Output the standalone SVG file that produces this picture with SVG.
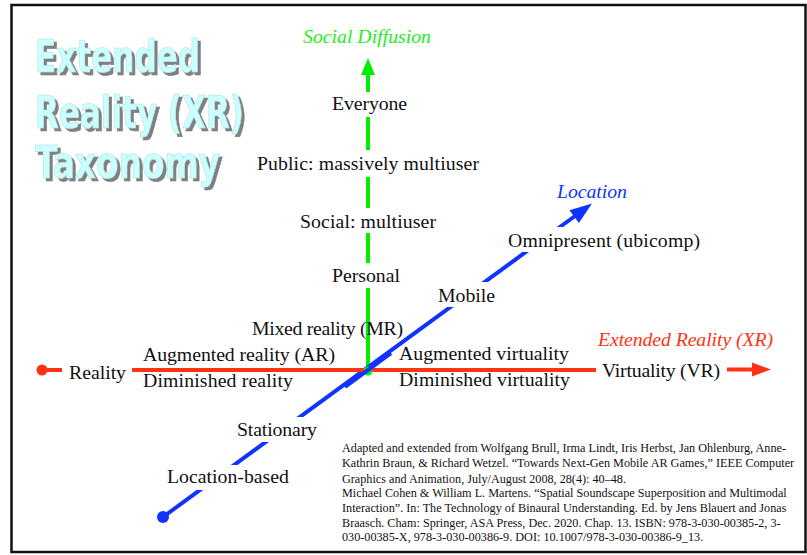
<svg xmlns="http://www.w3.org/2000/svg" width="807" height="555" viewBox="0 0 807 555">
<defs>
<style>
.lbl{font-family:"Liberation Serif","Times New Roman",serif;font-size:19.8px;fill:#111}
.ax{font-family:"Liberation Serif","Times New Roman",serif;font-size:19.8px;font-style:italic}
.cit{font-family:"Liberation Serif","Times New Roman",serif;font-size:12.2px;fill:#111}
.ttl{font-family:"DejaVu Sans Condensed","Liberation Sans",sans-serif;font-weight:bold;font-size:45px;fill:#ccffff;stroke:#b0e0e0;stroke-width:0.6}
.bg{fill:#fff}
</style>
<filter id="shadow" x="-10%" y="-10%" width="130%" height="140%">
<feDropShadow dx="3" dy="3" stdDeviation="0.6" flood-color="#808080" flood-opacity="1"/>
</filter>
<marker id="arrG" markerUnits="userSpaceOnUse" markerWidth="20" markerHeight="16" refX="1" refY="7" orient="auto" overflow="visible"><path d="M0,0 L17,7 L0,14 z" fill="#00ee00"/></marker>
<marker id="arrB" markerUnits="userSpaceOnUse" markerWidth="24" markerHeight="18" refX="1" refY="8" orient="auto" overflow="visible"><path d="M0,0 L22,8 L0,16 z" fill="#1133ff"/></marker>
<marker id="arrR" markerUnits="userSpaceOnUse" markerWidth="22" markerHeight="16" refX="1" refY="7" orient="auto" overflow="visible"><path d="M0,0 L19,7 L0,14 z" fill="#ff3311"/></marker>
</defs>
<rect x="0" y="0" width="807" height="555" fill="#fff"/>
<rect x="11.5" y="5" width="794" height="547" fill="#fff" stroke="#111" stroke-width="2.5"/>
<g id="title" filter="url(#shadow)">
<text class="ttl" x="35" y="72" textLength="165" lengthAdjust="spacingAndGlyphs">Extended</text>
<text class="ttl" x="35" y="128" textLength="209" lengthAdjust="spacingAndGlyphs">Reality (XR)</text>
<text class="ttl" x="35" y="178" textLength="185" lengthAdjust="spacingAndGlyphs">Taxonomy</text>
</g>
<g id="connectors">
<line id="axis-social" x1="368" y1="372" x2="368" y2="74" stroke="#00ee00" stroke-width="4" marker-end="url(#arrG)"/>
<line id="axis-location" x1="163" y1="517" x2="575" y2="216" stroke="#1133ff" stroke-width="4" marker-end="url(#arrB)"/>
<circle cx="163" cy="517" r="6" fill="#1133ff"/>
<circle cx="42" cy="370" r="5.5" fill="#ff3311"/>
<line x1="42" y1="370" x2="62" y2="370" stroke="#ff3311" stroke-width="4"/>
<line id="axis-xr" x1="132" y1="370" x2="596" y2="370" stroke="#ff3311" stroke-width="4"/>
<line x1="727" y1="369.5" x2="753" y2="369.5" stroke="#ff3311" stroke-width="4" marker-end="url(#arrR)"/>
<circle cx="368" cy="371" r="4.5" fill="#00ee00"/>
<line x1="345" y1="386.8" x2="391" y2="353.2" stroke="#1133ff" stroke-width="4"/>
</g>
<g id="social-diffusion"><text class="ax" x="303" y="43" textLength="128" fill="#22ee22">Social Diffusion</text></g>
<g id="everyone"><rect class="bg" x="330" y="92" width="80" height="25"/><text class="lbl" x="332" y="110" textLength="75">Everyone</text></g>
<g id="public"><rect class="bg" x="255" y="150" width="226" height="27"/><text class="lbl" x="257" y="170" textLength="222">Public: massively multiuser</text></g>
<g id="social"><rect class="bg" x="298" y="208" width="140" height="25"/><text class="lbl" x="300" y="228" textLength="136">Social: multiuser</text></g>
<g id="personal"><rect class="bg" x="330" y="263" width="72" height="25"/><text class="lbl" x="332" y="282" textLength="68">Personal</text></g>
<g id="mixed-reality"><text class="lbl" x="252" y="335" textLength="151">Mixed reality (MR)</text></g>
<g id="reality"><text class="lbl" x="69" y="379" textLength="57">Reality</text></g>
<g id="augmented-reality"><text class="lbl" x="143" y="361" textLength="192">Augmented reality (AR)</text></g>
<g id="diminished-reality"><text class="lbl" x="143" y="387" textLength="150">Diminished reality</text></g>
<g id="augmented-virtuality"><text class="lbl" x="399" y="360" textLength="170">Augmented virtuality</text></g>
<g id="diminished-virtuality"><text class="lbl" x="399" y="386" textLength="171">Diminished virtuality</text></g>
<g id="virtuality"><text class="lbl" x="602" y="377" textLength="118">Virtuality (VR)</text></g>
<g id="extended-reality"><text class="ax" x="598" y="346" textLength="175" fill="#ff3311">Extended Reality (XR)</text></g>
<g id="location"><text class="ax" x="557" y="198" textLength="70" fill="#1133ff">Location</text></g>
<g id="omnipresent"><rect class="bg" x="506" y="227" width="196" height="25"/><text class="lbl" x="508" y="247" textLength="192">Omnipresent (ubicomp)</text></g>
<g id="mobile"><rect class="bg" x="436" y="282" width="62" height="25"/><text class="lbl" x="438" y="302" textLength="57">Mobile</text></g>
<g id="stationary"><rect class="bg" x="234" y="417" width="86" height="25"/><text class="lbl" x="237" y="436" textLength="80">Stationary</text></g>
<g id="location-based"><rect class="bg" x="165" y="465" width="126" height="25"/><text class="lbl" x="167" y="483" textLength="122">Location-based</text></g>
<g id="citation">
<text class="cit" x="342" y="452">Adapted and extended from Wolfgang Brull, Irma Lindt, Iris Herbst, Jan Ohlenburg, Anne-</text>
<text class="cit" x="342" y="467">Kathrin Braun, &amp; Richard Wetzel. “Towards Next-Gen Mobile AR Games,” IEEE Computer</text>
<text class="cit" x="342" y="483">Graphics and Animation, July/August 2008, 28(4): 40–48.</text>
<text class="cit" x="342" y="497">Michael Cohen &amp; William L. Martens. “Spatial Soundscape Superposition and Multimodal</text>
<text class="cit" x="342" y="512">Interaction”. In: The Technology of Binaural Understanding. Ed. by Jens Blauert and Jonas</text>
<text class="cit" x="342" y="527">Braasch. Cham: Springer, ASA Press, Dec. 2020. Chap. 13. ISBN: 978-3-030-00385-2, 3-</text>
<text class="cit" x="342" y="541">030-00385-X, 978-3-030-00386-9. DOI: 10.1007/978-3-030-00386-9_13.</text>
</g>
</svg>
